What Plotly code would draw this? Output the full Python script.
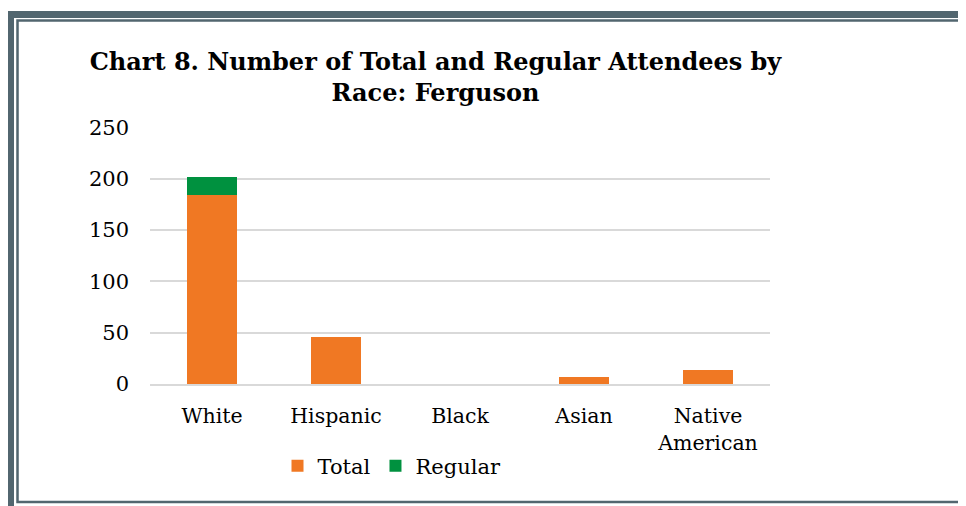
import plotly.graph_objects as go

categories = ["White", "Hispanic", "Black", "Asian", "Native<br>American"]
total_values = [184, 46, 0, 7, 14]
regular_values = [18, 0, 0, 0, 0]
y_ticks = [0, 50, 100, 150, 200, 250]

W, H = 966, 506
OFF = 8  # page body margin
# plot area in page pixels: x 150..770, y 127..384
ML, MT = 150 - OFF, 127 - OFF
PW, PH = 620, 257
MR, MB = W - ML - PW, H - MT - PH

def px(x):
    return (x - OFF - ML) / PW

def py(y):
    return (MT + PH - (y - OFF)) / PH

FONT = "DejaVu Serif"
BORDER = "#52666F"

fig = go.Figure()
fig.add_trace(go.Bar(x=categories, y=total_values, name="Total",
                     marker=dict(color="#F07823", line=dict(width=0))))
fig.add_trace(go.Bar(x=categories, y=regular_values, name="Regular",
                     marker=dict(color="#00913F", line=dict(width=0))))

fig.update_layout(
    width=W, height=H,
    barmode="stack", bargap=0.6,
    margin=dict(l=ML, r=MR, t=MT, b=MB),
    paper_bgcolor="white", plot_bgcolor="white",
    title=dict(text="<b>Chart 8. Number of Total and Regular Attendees by<br>Race: Ferguson</b>",
               x=px(435.5), xref="paper", xanchor="center",
               y=1 - 62 / H, yref="container", yanchor="middle",
               font=dict(family=FONT, size=24, color="black")),
    font=dict(family=FONT, size=21, color="black"),
    showlegend=True,
    legend=dict(orientation="h", x=px(392), xanchor="center", y=py(466), yanchor="middle",
                font=dict(family=FONT, size=21, color="black"), traceorder="normal",
                itemwidth=30, bgcolor="rgba(0,0,0,0)"),
    xaxis=dict(showgrid=False, showline=True, linecolor="#D9D9D9", linewidth=1.5,
               ticks="", ticklabelstandoff=13, tickfont=dict(family=FONT, size=20.5)),
    yaxis=dict(range=[0, 250.4], tickvals=y_ticks, showgrid=True, gridcolor="#D9D9D9",
               gridwidth=1.5, zeroline=False, showline=False, ticks="",
               ticklabelstandoff=20, tickfont=dict(family=FONT, size=21)),
    shapes=[
        dict(type="rect", xref="paper", yref="paper",
             x0=px(10.5), x1=px(1000), y0=py(14.5), y1=py(540),
             line=dict(color=BORDER, width=7), fillcolor="rgba(0,0,0,0)", layer="above"),
        dict(type="rect", xref="paper", yref="paper",
             x0=px(17.5), x1=px(1000), y0=py(20.5), y1=py(502),
             line=dict(color=BORDER, width=2.5), fillcolor="rgba(0,0,0,0)", layer="above"),
    ],
)

fig.write_html("out.html")
